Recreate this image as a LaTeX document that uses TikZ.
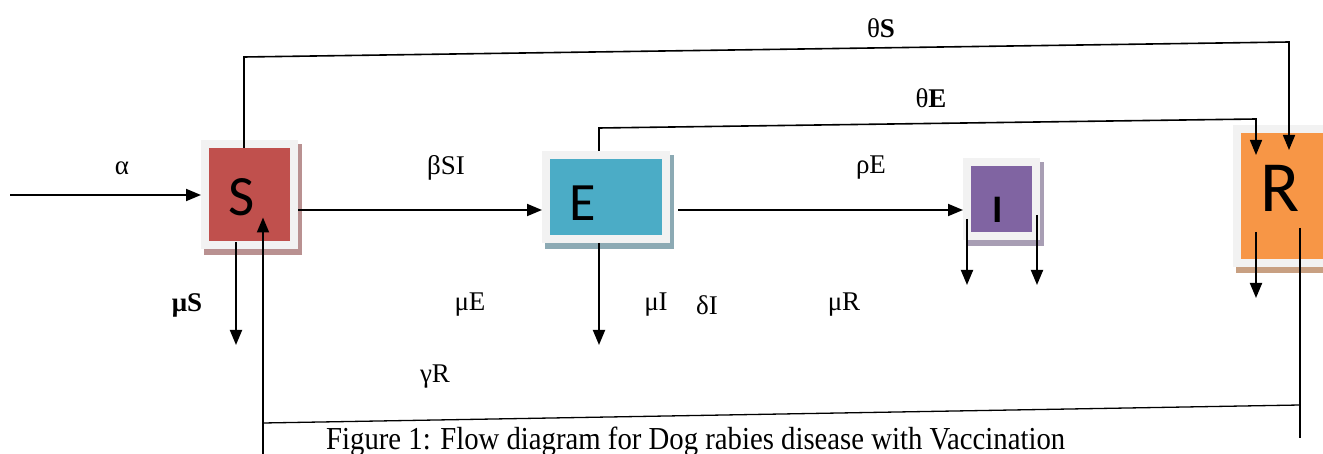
\documentclass[tikz,border=0pt]{standalone}
\usepackage{fontspec}
\setmainfont{Liberation Serif}
\newfontfamily\boxfont{Carlito}
\usetikzlibrary{arrows.meta,calc}
\definecolor{sred}{RGB}{192,80,77}
\definecolor{eteal}{RGB}{75,172,198}
\definecolor{ipurple}{RGB}{128,100,162}
\definecolor{rorange}{RGB}{247,150,70}
\definecolor{framegray}{RGB}{242,242,242}
\definecolor{sshadowc}{RGB}{185,145,145}
\definecolor{eshadowc}{RGB}{140,170,180}
\definecolor{ishadowc}{RGB}{168,158,180}
\definecolor{rshadowc}{RGB}{200,160,130}
\begin{document}
\begin{tikzpicture}[x=1pt,y=-1pt,
  compbox/.style={rectangle,draw=framegray,line width=8pt,inner sep=0pt},
  letter/.style={font=\boxfont\fontsize{#1}{#1}\selectfont},
  lbl/.style={font=\fontsize{27}{27}\selectfont,inner sep=0pt},
  arr/.style={line width=1.9pt,-{Triangle[length=15pt,width=12pt]}},
  flow/.style={line width=1.6pt},
  thin/.style={line width=1.3pt}]
\useasboundingbox (0,0) rectangle (1323,454);
\clip (0,0) rectangle (1323,454);
% shadows
\fill[sshadowc] (204,144) rectangle (302,255);
\fill[eshadowc] (545,155) rectangle (674,249);
\fill[ishadowc] (966,162) rectangle (1044,246);
\fill[rshadowc] (1236,129) rectangle (1335,273);
% compartments
\node[compbox,fill=sred,minimum width=89pt,minimum height=101pt] (S) at (249.5,194.5) {};
\node[compbox,fill=eteal,minimum width=120pt,minimum height=84pt] (E) at (606,197) {};
\node[compbox,fill=ipurple,minimum width=69pt,minimum height=74pt] (I) at (1001.5,199) {};
\node[compbox,fill=rorange,minimum width=90pt,minimum height=134pt] (R) at (1282,196) {};
\node[letter=57] (Sl) at (242,197) {S};
\node[letter=54] (El) at (583,203) {E};
\node[font=\boxfont\bfseries\fontsize{39}{39}\selectfont] (Il) at (998,210) {I};
\node[letter=72] (Rl) at (1280,188) {R};
% inflow and transitions
\coordinate (in) at (10,195);
\draw[arr] (in) -- (S.west |- in);
\draw[arr] (S.east |- 0,210) -- (E.west |- 0,210);
\draw[arr] ($(E.east |- 0,210)+(8,0)$) -- (I.west |- 0,210);
% deaths
\coordinate (Sd) at (236,345);
\draw[arr] ($(S.south -| Sd)+(0,-7)$) -- (Sd);
\coordinate (Ed) at (599,345);
\draw[arr] (E.south -| Ed) -- (Ed);
\coordinate (Id1) at (967,285);
\coordinate (Id2) at (1037,285);
\draw[arr] ($(I.south -| Id1)+(0,-21)$) -- (Id1);
\draw[arr] ($(I.south -| Id2)+(0,-25)$) -- (Id2);
\coordinate (Rd) at (1256,298);
\draw[arr] ($(R.south -| Rd)+(0,-35)$) -- (Rd);
% vaccination S -> R
\draw[flow,-{Triangle[length=15pt,width=12pt]}] ($(S.north -| 244,0)+(0,8)$) -- (244,57) -- (1289,42) -- ($(R.north -| 1289,0)+(0,25)$);
% vaccination E -> R
\draw[flow,-{Triangle[length=15pt,width=12pt]}] (E.north -| 599,0) -- (599,128) -- (1256,119) -- ($(R.north -| 1256,0)+(0,30)$);
% loss of immunity R -> S
\draw[thin] ($(R.south -| 1300,0)+(0,-39)$) -- (1300,438);
\draw[thin] (1300,405) -- (263,423);
\coordinate (Sb) at (263,454);
\draw[arr] (Sb) -- ($(S.center -| Sb)+(0,23)$);
% labels
\node[lbl] (la) at (122,168) {α};
\node[lbl] (lb) at (446,168) {βSI};
\node[lbl] (lr) at (871,168) {ρE};
\node[lbl] (lms) at (187,305) {\bfseries μS};
\node[lbl] (lme) at (470,305) {μE};
\node[lbl] (lmi) at (656,305) {μI};
\node[lbl] (ldi) at (707,305) {δI};
\node[lbl] (lmr) at (844,305) {μR};
\node[lbl] (lg) at (435,377) {γR};
\node[lbl] (lts) at (881,28) {θ\textbf{S}};
\node[lbl] (lte) at (931,98) {θ\textbf{E}};
\node[anchor=base west,inner sep=0pt] (cap) at (326,449) {\resizebox{739pt}{\height}{\fontsize{32}{32}\selectfont Figure 1: Flow diagram for Dog rabies disease with Vaccination}};
\end{tikzpicture}
\end{document}
